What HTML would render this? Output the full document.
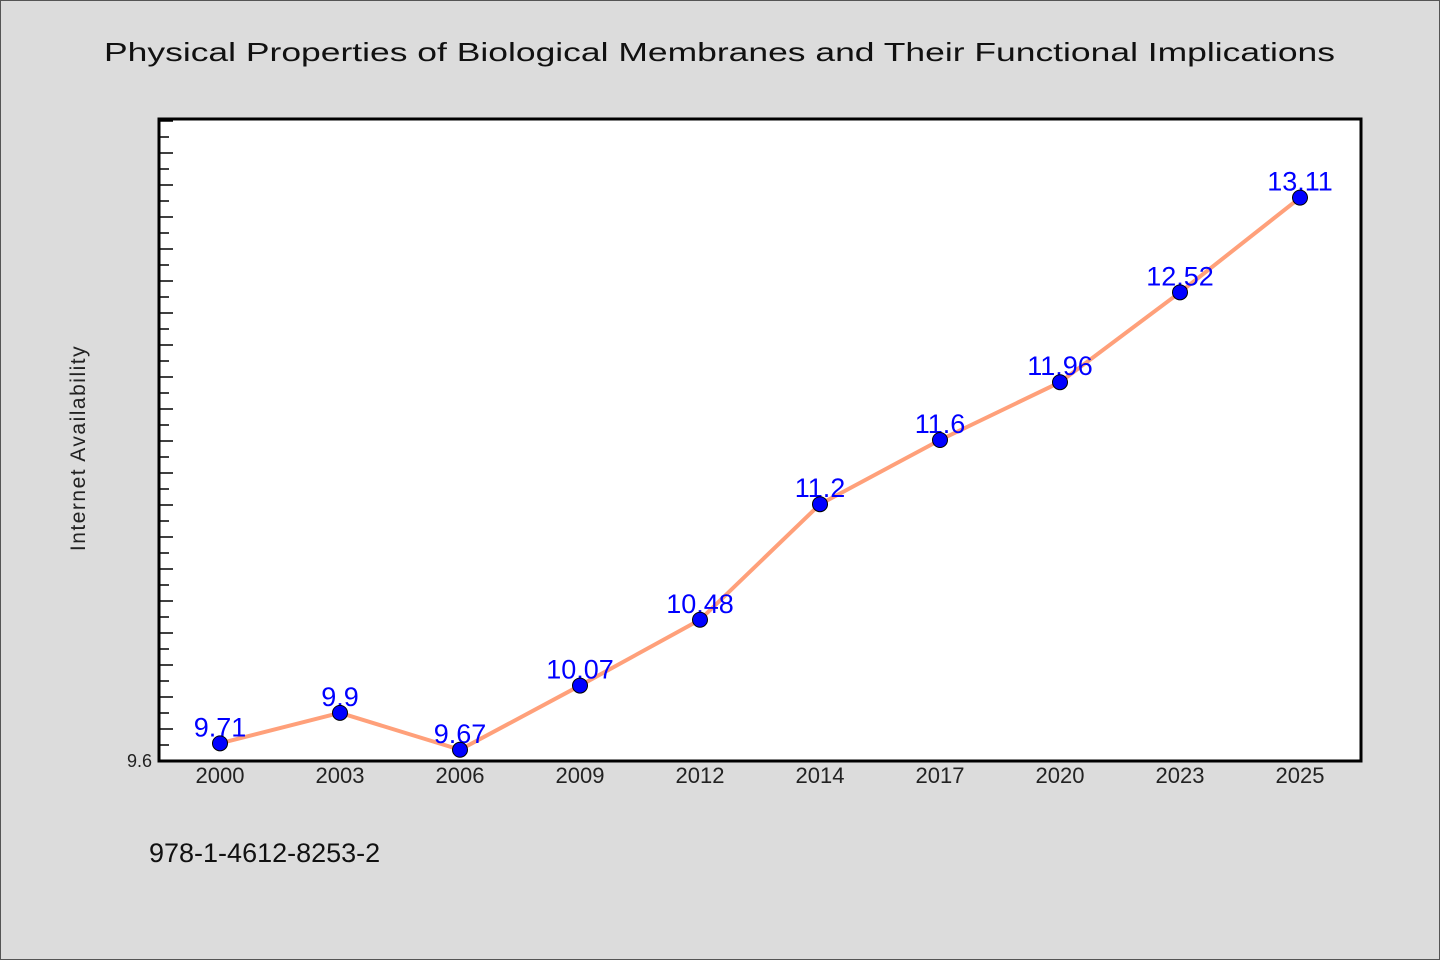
<!DOCTYPE html>
<html><head><meta charset="utf-8"><style>
html,body{margin:0;padding:0;background:#dcdcdc;}
svg{display:block;font-family:"WenQuanYi Zen Hei","Liberation Sans",sans-serif;}
</style></head><body>
<svg id="chart" width="1440" height="960" viewBox="0 0 1440 960" xmlns="http://www.w3.org/2000/svg">
<rect x="0.5" y="0.5" width="1439" height="959" fill="#dcdcdc" stroke="#555"/>
<text x="104" y="61" font-size="26" textLength="1231" lengthAdjust="spacingAndGlyphs" fill="#111">Physical Properties of Biological Membranes and Their Functional Implications</text>
<rect x="159" y="119" width="1202" height="642" fill="#fff"/>
<g id="ticks"></g>
<g id="series"></g>
<rect x="159" y="119" width="1202" height="642" fill="none" stroke="#000" stroke-width="3"/>
<text transform="translate(85,448) rotate(-90)" text-anchor="middle" font-size="21" fill="#222" letter-spacing="1.5">Internet Availability</text>
<text x="152" y="767" text-anchor="end" font-size="18" fill="#222">9.6</text>
<text x="149" y="862" font-size="27" fill="#111">978-1-4612-8253-2</text>
<script>
const categories=["2000","2003","2006","2009","2012","2014","2017","2020","2023","2025"];
const values=[9.71,9.9,9.67,10.07,10.48,11.2,11.6,11.96,12.52,13.11];
const valueLabels=["9.71","9.9","9.67","10.07","10.48","11.2","11.6","11.96","12.52","13.11"];
const yMin=9.6, yMax=13.6;
const NS="http://www.w3.org/2000/svg";
function xPos(i){return 220+i*120;}
function yPos(v){return 761-(v-yMin)/(yMax-yMin)*642;}
const ticks=document.getElementById('ticks');
for(let k=1;k*16<642;k++){
  const y=761-16*k;
  const l=document.createElementNS(NS,'line');
  
  
  l.setAttribute('x1',160);l.setAttribute('x2',k%2===0?173:169);
  l.setAttribute('y1',y);l.setAttribute('y2',y);
  l.setAttribute('stroke','#000');l.setAttribute('stroke-width','1.5');
  ticks.appendChild(l);
}
categories.forEach((c,i)=>{
  const t=document.createElementNS(NS,'text');
  
  
  t.setAttribute('x',xPos(i));t.setAttribute('y',783);
  t.setAttribute('text-anchor','middle');t.setAttribute('font-size','22');t.setAttribute('fill','#222');
  t.textContent=c;ticks.appendChild(t);
});
const g=document.getElementById('series');
const pl=document.createElementNS(NS,'polyline');


pl.setAttribute('points',values.map((v,i)=>xPos(i)+','+yPos(v)).join(' '));
pl.setAttribute('fill','none');pl.setAttribute('stroke','#ffa07a');pl.setAttribute('stroke-width','4');
g.appendChild(pl);
values.forEach((v,i)=>{
  const t=document.createElementNS(NS,'text');
  
  
  t.setAttribute('x',xPos(i));t.setAttribute('y',yPos(v)-7);
  t.setAttribute('text-anchor','middle');t.setAttribute('font-size','27');t.setAttribute('fill','#0000ff');
  t.textContent=valueLabels[i];g.appendChild(t);
});
values.forEach((v,i)=>{
  const c=document.createElementNS(NS,'circle');
  
  
  c.setAttribute('cx',xPos(i));c.setAttribute('cy',yPos(v));c.setAttribute('r','7.5');
  c.setAttribute('fill','#0000ff');c.setAttribute('stroke','#000');c.setAttribute('stroke-width','1');
  g.appendChild(c);
});
</script>
</svg>
</body></html>
